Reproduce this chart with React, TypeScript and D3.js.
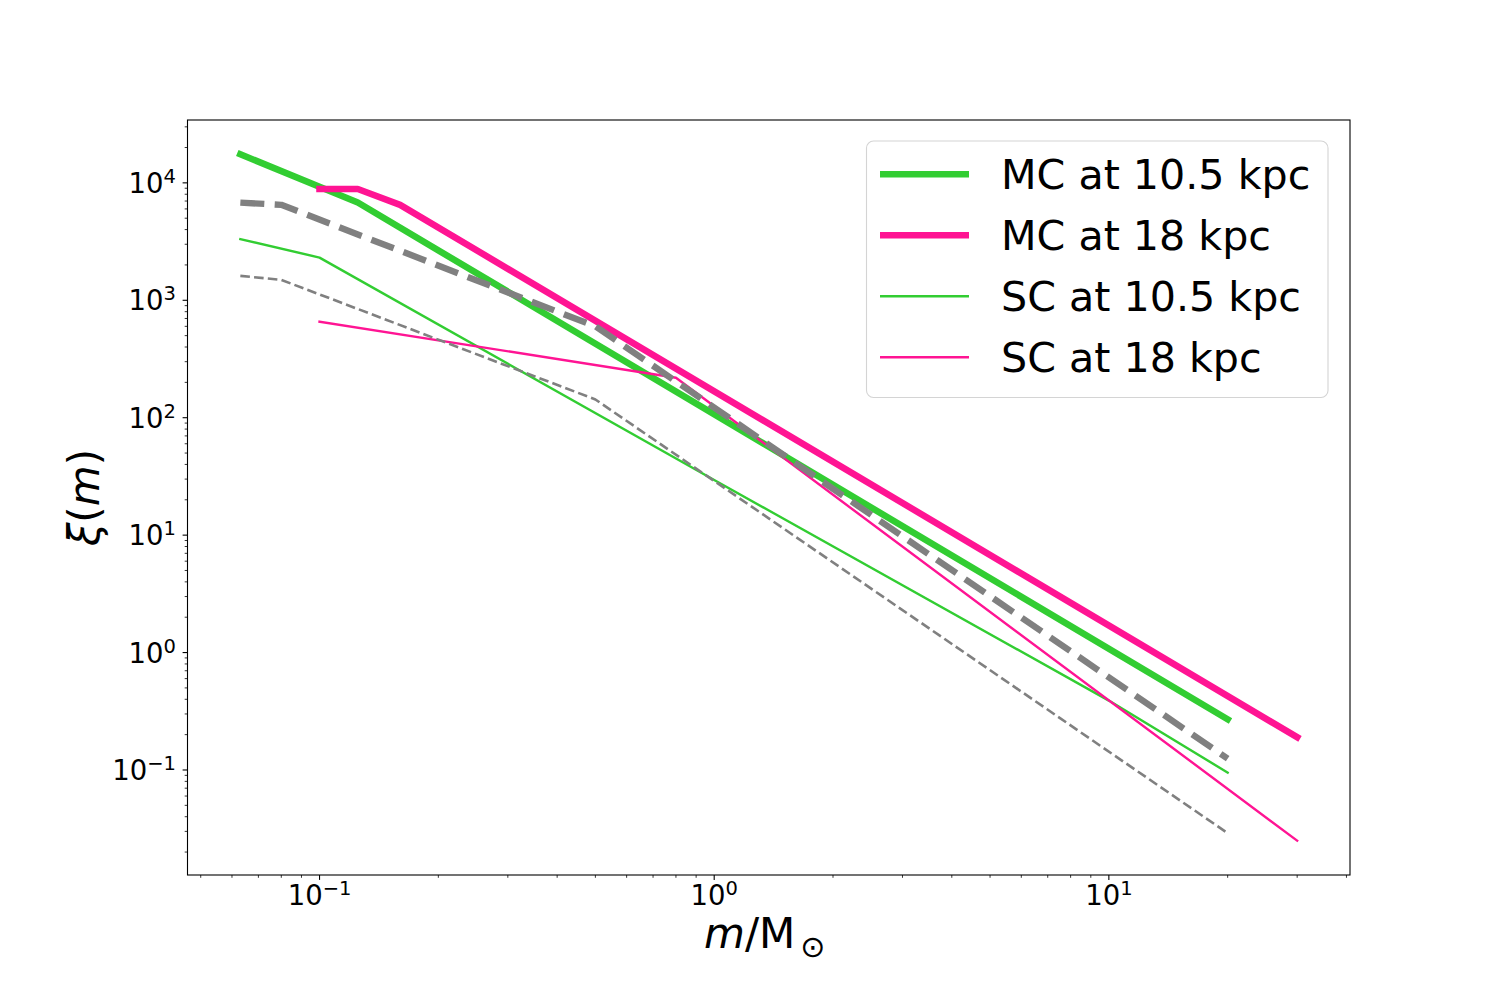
import * as d3 from 'd3';
import React from 'react';

// mass grid points (in solar masses) and xi(m)
const massMC105 = [0.063, 0.125, 20];
const xiMC105 = [17500, 6800, 0.27];
const massMC18 = [0.1, 0.125, 0.16, 30];
const xiMC18 = [8870, 8870, 6500, 0.19];
const massSC105 = [0.063, 0.1, 1, 10, 20];
const xiSC105 = [3320, 2310, 29.5, 0.39, 0.095];
const massSC18 = [0.1, 0.8, 30];
const xiSC18 = [658, 219, 0.025];
const massRefThick = [0.063, 0.08, 0.5, 20];
const xiRefThick = [6790, 6500, 600, 0.125];
const massRefThin = [0.063, 0.08, 0.5, 20];
const xiRefThin = [1615, 1493, 143, 0.029];

const xTickExps = [-1, 0, 1];
const yTickExps = [-1, 0, 1, 2, 3, 4];

const W = 1500;
const H = 1000;
const left = 187.5;
const right = 1350;
const top = 120;
const bottom = 875;
const FONT = '"DejaVu Sans", sans-serif';

type Series = {
  mass: number[];
  xi: number[];
  color: string;
  width: number;
  dash?: string;
  label?: string;
};

const series: Series[] = [
  { mass: massMC105, xi: xiMC105, color: '#32cd32', width: 6.6, label: 'MC at 10.5 kpc' },
  { mass: massMC18, xi: xiMC18, color: '#ff1493', width: 6.6, label: 'MC at 18 kpc' },
  { mass: massSC105, xi: xiSC105, color: '#32cd32', width: 2.4, label: 'SC at 10.5 kpc' },
  { mass: massSC18, xi: xiSC18, color: '#ff1493', width: 2.4, label: 'SC at 18 kpc' },
  { mass: massRefThick, xi: xiRefThick, color: 'gray', width: 6.4, dash: '24 10.4' },
  { mass: massRefThin, xi: xiRefThin, color: 'gray', width: 2.6, dash: '9.6 4.2' },
];

// matplotlib-style log autoscale with 5% margins
const logPad = (lo: number, hi: number): [number, number] => {
  const a = Math.log10(lo);
  const b = Math.log10(hi);
  const m = (b - a) * 0.05;
  return [Math.pow(10, a - m), Math.pow(10, b + m)];
};

const allMass = series.flatMap(s => s.mass);
const allXi = series.flatMap(s => s.xi);
const x = d3.scaleLog().domain(logPad(d3.min(allMass)!, d3.max(allMass)!)).range([left, right]);
const y = d3.scaleLog().domain(logPad(d3.min(allXi)!, d3.max(allXi)!)).range([bottom, top]);

const minorTicks = (scale: d3.ScaleLogarithmic<number, number>) => {
  const [lo, hi] = scale.domain();
  const out: number[] = [];
  for (let e = Math.floor(Math.log10(lo)); e <= Math.ceil(Math.log10(hi)); e++) {
    for (let k = 2; k <= 9; k++) {
      const v = k * Math.pow(10, e);
      if (v >= lo && v <= hi) out.push(v);
    }
  }
  return out;
};

const supText = (e: number) => (e < 0 ? '\u2212' + Math.abs(e) : String(e));

const App: React.FC = () => {
  const line = d3
    .line<[number, number]>()
    .x(d => x(d[0]))
    .y(d => y(d[1]));

  const legendItems = series.filter(s => s.label);
  const lgX = 866.5;
  const lgY = 141;
  const lgW = 461.5;
  const lgH = 256.5;
  const rowY = (i: number) => 174.3 + i * 61;

  return (
    <svg
      width={W}
      height={H}
      style={{ position: 'absolute', left: 0, top: 0, background: 'white' }}
      fontFamily={FONT}
    >
      <rect x={0} y={0} width={W} height={H} fill="white" />
      <defs>
        <clipPath id="plotClip">
          <rect x={left} y={top} width={right - left} height={bottom - top} />
        </clipPath>
      </defs>

      <g clipPath="url(#plotClip)">
        {series.map((s, i) => (
          <path
            key={i}
            d={line(s.mass.map((m, j) => [m, s.xi[j]] as [number, number])) ?? ''}
            fill="none"
            stroke={s.color}
            strokeWidth={s.width}
            strokeDasharray={s.dash}
            strokeLinecap={s.dash ? 'butt' : 'square'}
            strokeLinejoin="round"
          />
        ))}
      </g>

      {/* frame */}
      <rect x={left} y={top} width={right - left} height={bottom - top} fill="none" stroke="black" strokeWidth={1.1} />

      {/* x ticks */}
      {minorTicks(x).map((v, i) => (
        <line key={'xm' + i} x1={x(v)} x2={x(v)} y1={bottom} y2={bottom + 2.8} stroke="black" strokeWidth={0.8} />
      ))}
      {xTickExps.map(e => (
        <g key={'xt' + e}>
          <line x1={x(Math.pow(10, e))} x2={x(Math.pow(10, e))} y1={bottom} y2={bottom + 4.9} stroke="black" strokeWidth={1.1} />
          <text x={x(Math.pow(10, e))} y={905} textAnchor="middle" fontSize={27.5}>
            10
            <tspan fontSize={19.5} dy={-10}>
              {supText(e)}
            </tspan>
          </text>
        </g>
      ))}

      {/* y ticks */}
      {minorTicks(y).map((v, i) => (
        <line key={'ym' + i} x1={left} x2={left - 2.8} y1={y(v)} y2={y(v)} stroke="black" strokeWidth={0.8} />
      ))}
      {yTickExps.map(e => (
        <g key={'yt' + e}>
          <line x1={left} x2={left - 4.9} y1={y(Math.pow(10, e))} y2={y(Math.pow(10, e))} stroke="black" strokeWidth={1.1} />
          <text x={176} y={y(Math.pow(10, e)) + 10} textAnchor="end" fontSize={27.5}>
            10
            <tspan fontSize={19.5} dy={-10}>
              {supText(e)}
            </tspan>
          </text>
        </g>
      ))}

      {/* axis labels */}
      <text x={(left + right) / 2 - 4} y={948} textAnchor="middle" fontSize={42}>
        <tspan fontStyle="italic">m</tspan>/M
        <tspan fontSize={30} dx={5} dy={9}>
          {'\u2299'}
        </tspan>
      </text>
      <text transform={`translate(99, ${(top + bottom) / 2}) rotate(-90)`} textAnchor="middle" fontSize={42}>
        <tspan fontStyle="italic">ξ</tspan>(<tspan fontStyle="italic">m</tspan>)
      </text>

      {/* legend */}
      <rect x={lgX} y={lgY} width={lgW} height={lgH} rx={7} fill="white" fillOpacity={0.8} stroke="#d4d4d4" strokeWidth={1.1} />
      {legendItems.map((s, i) => (
        <g key={'lg' + i}>
          <line x1={880} x2={969} y1={rowY(i)} y2={rowY(i)} stroke={s.color} strokeWidth={s.width} strokeLinecap="butt" />
          <text x={1001} y={rowY(i) + 14.5} fontSize={41.2}>
            {s.label}
          </text>
        </g>
      ))}
    </svg>
  );
};

export default App;
